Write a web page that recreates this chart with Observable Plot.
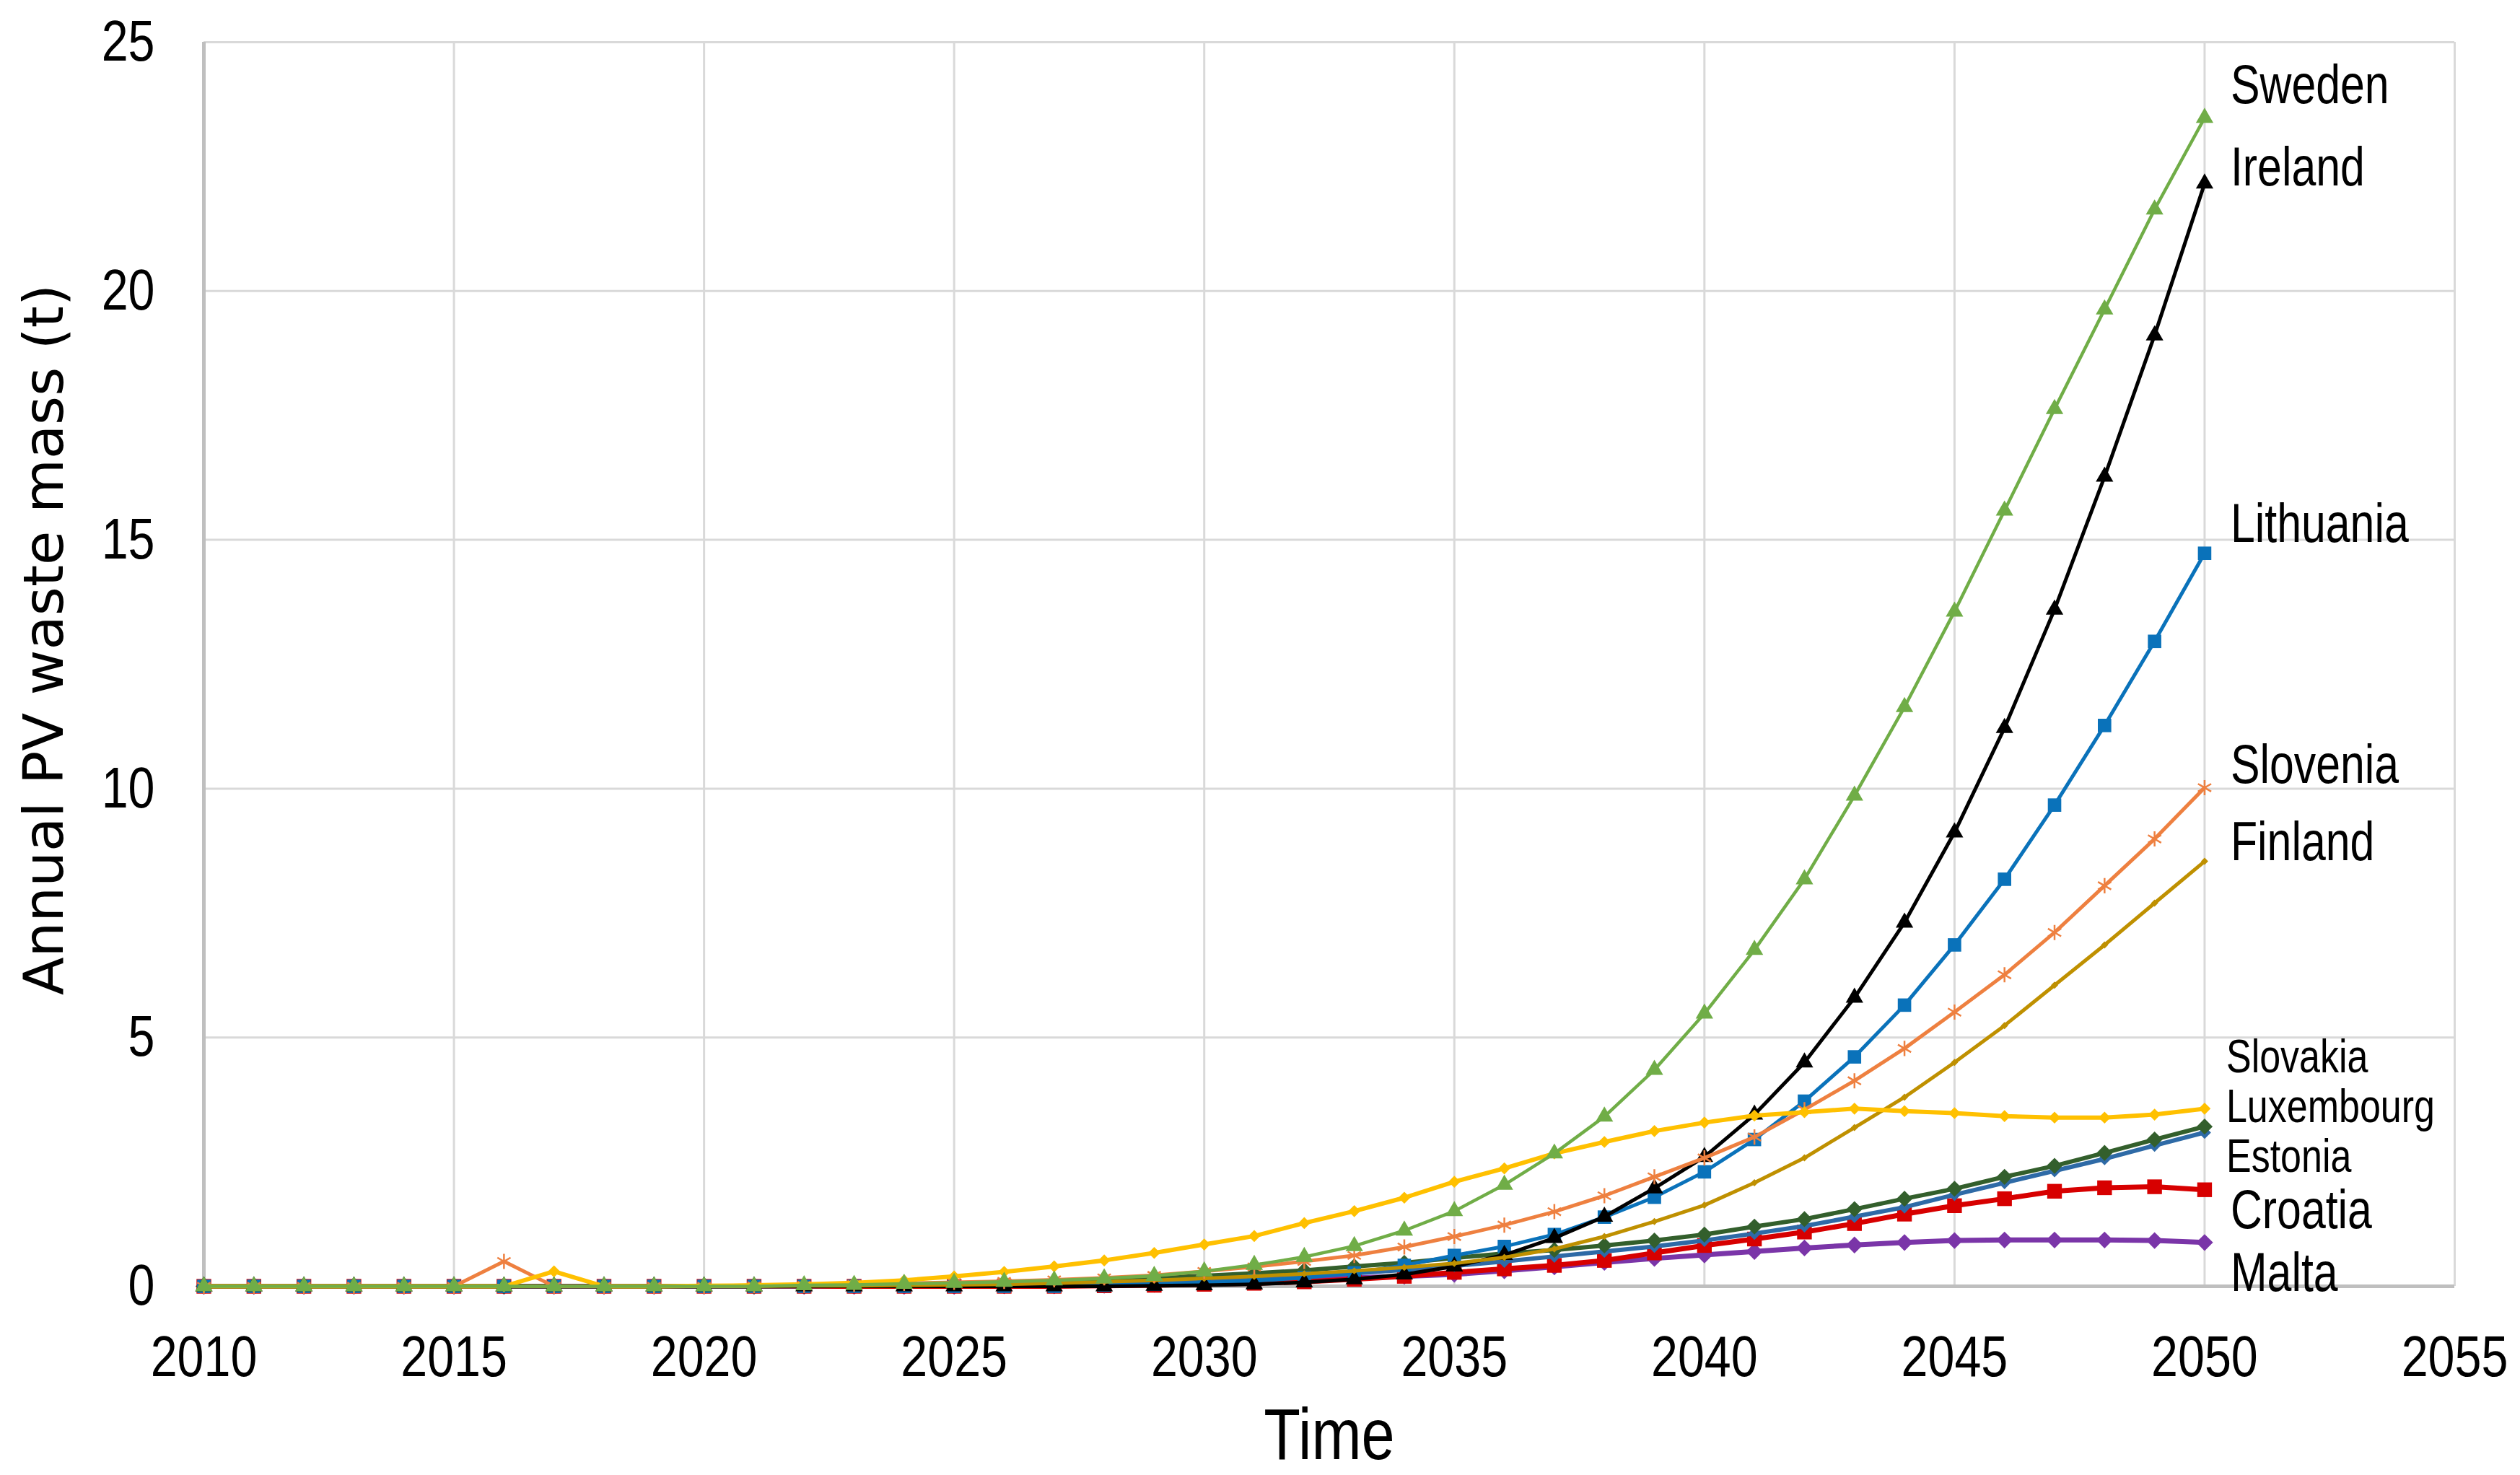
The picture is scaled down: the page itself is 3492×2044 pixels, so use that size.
<!DOCTYPE html>
<html><head><meta charset="utf-8">
<script src="https://cdn.jsdelivr.net/npm/d3@7"></script>
<script src="https://cdn.jsdelivr.net/npm/@observablehq/plot@0.6"></script>
<style>html,body{margin:0;padding:0;background:#fff;overflow:hidden;}</style>
</head><body><div id="chart"></div>
<script>
// ---- data ----
const years = [2010,2011,2012,2013,2014,2015,2016,2017,2018,2019,2020,2021,2022,2023,2024,2025,2026,2027,2028,2029,2030,2031,2032,2033,2034,2035,2036,2037,2038,2039,2040,2041,2042,2043,2044,2045,2046,2047,2048,2049,2050];
const xTicks = [2010,2015,2020,2025,2030,2035,2040,2045,2050,2055];
const yTicks = [0,5,10,15,20,25];

const sweden     = [0,0,0,0,0,0,0,0,0,0,0,0,0.02,0.03,0.05,0.07,0.09,0.12,0.16,0.21,0.3,0.43,0.59,0.81,1.12,1.51,2.04,2.67,3.41,4.35,5.48,6.76,8.18,9.86,11.64,13.56,15.59,17.63,19.63,21.64,23.48];
const ireland    = [0,0,0,0,0,0,0,0,0,0,0,0,0,0,0,0,0,0,0,0.01,0.02,0.04,0.08,0.14,0.24,0.4,0.63,0.97,1.4,1.97,2.6,3.45,4.5,5.8,7.31,9.12,11.22,13.6,16.27,19.11,22.16];
const lithuania  = [0,0,0,0,0,0,0,0,0,0,0,0,0,0,0,0,0,0,0.02,0.04,0.07,0.11,0.17,0.27,0.42,0.62,0.8,1.04,1.39,1.79,2.3,2.95,3.72,4.61,5.65,6.86,8.18,9.67,11.27,12.96,14.73];
const slovenia   = [0,0,0,0,0,0,0.5,0,0,0,0,0.01,0.02,0.04,0.06,0.08,0.1,0.13,0.17,0.22,0.3,0.39,0.5,0.62,0.79,1.0,1.23,1.5,1.82,2.2,2.58,3.0,3.55,4.13,4.78,5.51,6.26,7.11,8.05,8.99,10.02];
const finland    = [0,0,0,0,0,0,0,0,0,0,0,0,0.01,0.01,0.02,0.03,0.04,0.06,0.09,0.12,0.16,0.2,0.25,0.31,0.38,0.46,0.58,0.75,1.0,1.3,1.63,2.08,2.58,3.19,3.8,4.5,5.24,6.05,6.86,7.7,8.54];
const slovakia   = [0,0,0,0,0,0,0,0.3,0,0,0.01,0.02,0.04,0.07,0.12,0.2,0.29,0.4,0.52,0.67,0.84,1.01,1.27,1.51,1.78,2.1,2.37,2.67,2.9,3.12,3.29,3.43,3.5,3.57,3.52,3.48,3.42,3.39,3.39,3.45,3.57];
const luxembourg = [0,0,0,0,0,0,0,0,0,0,0,0,0.01,0.02,0.03,0.05,0.07,0.1,0.13,0.17,0.21,0.26,0.32,0.4,0.47,0.57,0.66,0.73,0.82,0.92,1.04,1.2,1.35,1.55,1.76,1.96,2.2,2.42,2.68,2.95,3.21];
const estonia    = [0,0,0,0,0,0,0,0,0,0,0,0,0,0.01,0.01,0.02,0.03,0.04,0.06,0.08,0.11,0.15,0.2,0.26,0.33,0.41,0.5,0.6,0.7,0.8,0.92,1.06,1.21,1.4,1.59,1.84,2.08,2.32,2.56,2.83,3.09];
const croatia    = [0,0,0,0,0,0,0,0,0,0,0,0,0,0,0,0,0,0,0.01,0.02,0.04,0.06,0.09,0.14,0.2,0.28,0.35,0.42,0.52,0.67,0.82,0.95,1.09,1.26,1.45,1.62,1.76,1.91,1.98,2.0,1.94];
const malta      = [0,0,0,0,0,0,0,0,0,0,0,0,0,0,0,0,0.01,0.01,0.02,0.04,0.07,0.1,0.13,0.17,0.2,0.24,0.31,0.39,0.48,0.56,0.63,0.7,0.77,0.83,0.88,0.92,0.93,0.93,0.93,0.92,0.88];

// label heights (data units) for the end-of-line country names
const labelNames = ["Sweden","Ireland","Lithuania","Slovenia","Finland","Slovakia","Luxembourg","Estonia","Croatia","Malta"];
const labelY     = [24.13, 22.48, 15.31, 10.47, 8.92, 4.6, 3.6, 2.6, 1.52, 0.26];

// ---- styles (draw order: first drawn at bottom) ----
const seriesStyle = [
  {name:"Malta",      values:malta,      color:"#7A35A8", symbol:"diamond2", r:10.5, sw:7},
  {name:"Croatia",    values:croatia,    color:"#D70000", symbol:"square",   r:11.5, sw:7},
  {name:"Estonia",    values:estonia,    color:"#2E6AA6", symbol:"diamond2", r:8,    sw:6},
  {name:"Luxembourg", values:luxembourg, color:"#335F2C", symbol:"diamond2", r:10,   sw:6},
  {name:"Lithuania",  values:lithuania,  color:"#0A72BA", symbol:"square",   r:10.5, sw:5},
  {name:"Ireland",    values:ireland,    color:"#000000", symbol:"triangle", r:9,    sw:5},
  {name:"Finland",    values:finland,    color:"#BF9000", symbol:"diamond2", r:4.5,  sw:5},
  {name:"Slovenia",   values:slovenia,   color:"#EE8040", symbol:"asterisk", r:10,   sw:5},
  {name:"Slovakia",   values:slovakia,   color:"#FFC000", symbol:"diamond2", r:7.5,  sw:6},
  {name:"Sweden",     values:sweden,     color:"#70AD47", symbol:"triangle", r:9,    sw:4.5}
];
const bigLabels = new Set(["Sweden","Ireland","Lithuania","Slovenia","Finland","Croatia","Malta"]);

const sans = "'Liberation Sans',Arial,sans-serif";

const marks = [
  Plot.gridX(xTicks, {stroke:"#D9D9D9", strokeOpacity:1, strokeWidth:3}),
  Plot.gridY(yTicks, {stroke:"#D9D9D9", strokeOpacity:1, strokeWidth:3}),
  Plot.ruleX([xTicks[0]], {stroke:"#BFBFBF", strokeWidth:5}),
  Plot.ruleY([yTicks[0]], {stroke:"#BFBFBF", strokeWidth:5})
];

for (const s of seriesStyle) {
  const rows = years.map((yr, i) => ({year: yr, value: s.values[i]}));
  marks.push(Plot.line(rows, {x:"year", y:"value", stroke:s.color, strokeWidth:s.sw, strokeLinejoin:"round"}));
  if (s.symbol === "asterisk") {
    marks.push(Plot.dot(rows, {x:"year", y:"value", symbol:"asterisk", r:s.r, stroke:s.color, strokeWidth:2.5, fill:"none"}));
  } else {
    marks.push(Plot.dot(rows, {x:"year", y:"value", symbol:s.symbol, r:s.r, fill:s.color, stroke:"none"}));
  }
}

const labelRows = labelNames.map((n, i) => ({name:n, y:labelY[i], x: years[years.length-1]}));
marks.push(Plot.text(labelRows.filter(d => bigLabels.has(d.name)), {x:"x", y:"y", text:"name", textAnchor:"start", lineAnchor:"middle", dx:36, fontSize:76, fontFamily:sans, fill:"#000"}));
marks.push(Plot.text(labelRows.filter(d => !bigLabels.has(d.name)), {x:"x", y:"y", text:"name", textAnchor:"start", lineAnchor:"middle", dx:30, fontSize:65, fontFamily:sans, fill:"#000"}));

marks.push(Plot.axisX(xTicks, {tickSize:0, tickPadding:68, fontSize:80, fontFamily:sans, tickFormat:d => String(d), label:null}));
marks.push(Plot.axisY(yTicks, {tickSize:0, tickPadding:68, fontSize:80, fontFamily:sans, tickFormat:d => String(d), label:null}));
marks.push(Plot.text(["Time"], {frameAnchor:"bottom", lineAnchor:"middle", textAnchor:"middle", dy:207, fontSize:100, fontFamily:sans, fill:"#000"}));
marks.push(Plot.text(["Annual PV waste mass (t)"], {frameAnchor:"left", rotate:-90, textAnchor:"middle", lineAnchor:"middle", dx:-220, dy:-34, fontSize:77, fontFamily:"'DejaVu Sans',sans-serif", fill:"#000"}));

const chart = Plot.plot({
  width: 3492,
  height: 2044,
  marginLeft: 282,
  marginRight: 91,
  marginTop: 58,
  marginBottom: 262,
  x: {domain:[xTicks[0], xTicks[xTicks.length-1]]},
  y: {domain:[yTicks[0], yTicks[yTicks.length-1]]},
  style: {background:"#fff", color:"#000", fontFamily: sans},
  marks
});
document.getElementById("chart").appendChild(chart);

// narrow the Calibri-like texts horizontally around their anchor points
chart.querySelectorAll("text").forEach(t => {
  const s = t.textContent;
  if (s.startsWith("Annual")) return;
  const sx = labelNames.includes(s) ? 0.8 : 0.83;
  const tr = t.getAttribute("transform");
  if (tr) {
    t.setAttribute("transform", tr + ` scale(${sx},1)`);
  } else {
    const x = +(t.getAttribute("x") || 0), y = +(t.getAttribute("y") || 0);
    t.removeAttribute("x"); t.removeAttribute("y");
    t.setAttribute("transform", `translate(${x},${y}) scale(${sx},1)`);
  }
});
</script>
</body></html>
